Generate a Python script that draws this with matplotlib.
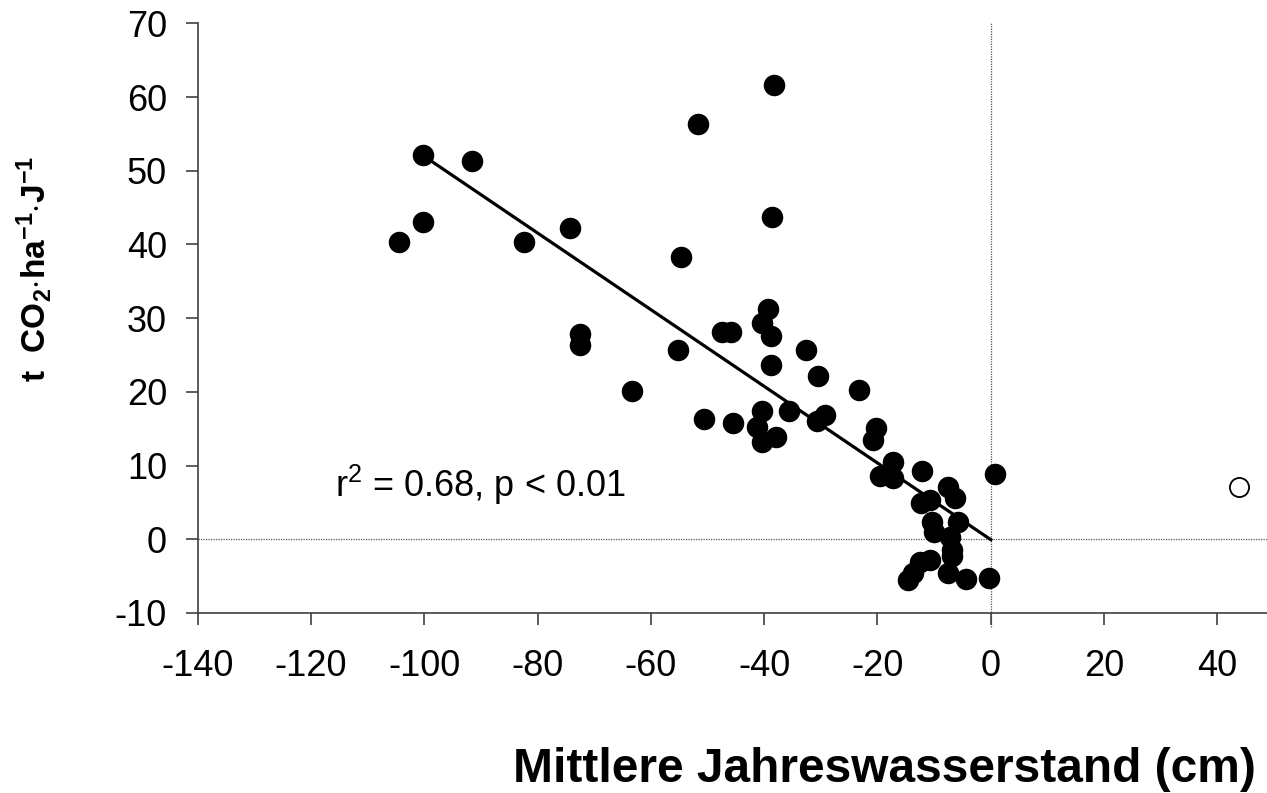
import matplotlib
matplotlib.use("Agg")
import matplotlib.pyplot as plt
import numpy as np

plt.rcParams['font.family'] = ['Liberation Sans', 'DejaVu Sans']
plt.rcParams['mathtext.fontset'] = 'custom'
plt.rcParams['mathtext.rm'] = 'Liberation Sans'
plt.rcParams['mathtext.it'] = 'Liberation Sans:italic'
plt.rcParams['mathtext.bf'] = 'Liberation Sans:bold'

# Mean annual water level (cm) vs CO2 emission (t CO2 / ha / yr)
water_level = [-104.4, -100.3, -100.3, -91.5, -82.4, -74.2, -72.6, -72.6, -63.4, -54.6,
               -55.2, -50.6, -47.5, -45.9, -45.5, -51.6, -38.2, -38.7, -39.3, -40.4,
               -38.8, -38.8, -40.4, -41.3, -40.4, -38.0, -35.6, -32.6, -30.5, -30.7,
               -29.3, -23.3, -20.3, -20.8, -17.2, -19.6, -17.3, -12.1, 0.7, -7.5,
               -10.7, -6.3, -12.3, -10.4, -5.7, -10.1, -7.2, -6.8, -6.8, -10.7,
               -12.5, -7.5, -13.7, -14.6, -4.4, -0.4]
co2_emission = [40.3, 52.1, 43.0, 51.3, 40.3, 42.2, 27.8, 26.4, 20.1, 38.3,
                25.7, 16.3, 28.1, 28.1, 15.8, 56.4, 61.6, 43.7, 31.3, 29.3,
                27.6, 23.7, 17.4, 15.3, 13.2, 13.9, 17.4, 25.7, 22.1, 16.0,
                16.8, 20.2, 15.1, 13.5, 10.5, 8.6, 8.3, 9.2, 8.8, 7.1,
                5.3, 5.6, 4.9, 2.4, 2.4, 1.0, 0.3, -1.5, -2.2, -2.8,
                -3.1, -4.6, -4.6, -5.5, -5.4, -5.3]

# excluded (open) point
outlier_level = [43.9]
outlier_co2 = [7.1]

# regression line
fit_slope = -0.52
fit_intercept = -0.05
fit_range = [-100.3, 0.0]

x_ticks = [-140, -120, -100, -80, -60, -40, -20, 0, 20, 40]
y_ticks = [-10, 0, 10, 20, 30, 40, 50, 60, 70]

fig = plt.figure(figsize=(12.67, 7.93), dpi=100)
W, H = 1267, 793
left_px, right_px, top_px, bot_px = 197.7, 1267, 23.3, 613
ax = fig.add_axes([left_px / W, 1 - bot_px / H, (right_px - left_px) / W, (bot_px - top_px) / H])

ax.set_xlim(-140, 48.76)
ax.set_ylim(-10, 70)

# reference dotted lines
ax.axhline(0, color='#555555', lw=0.9, ls=(0, (1, 1)), zorder=1)
ax.plot([0, 0], [-11.9, 70], color='#555555', lw=0.9, ls=(0, (1, 1)), zorder=1, clip_on=False)

fx = np.array(fit_range)
ax.plot(fx, fit_slope * fx + fit_intercept, color='black', lw=2.3, zorder=2)

ax.scatter(water_level, co2_emission, s=240, color='black', edgecolors='black', linewidths=0, zorder=3)
ax.scatter(outlier_level, outlier_co2, s=190, facecolors='white', edgecolors='black', linewidths=1.3, zorder=3)

ax.set_xticks(x_ticks)
ax.set_yticks(y_ticks)
ax.set_xticklabels([str(v) for v in x_ticks])
ax.set_yticklabels([str(v) for v in y_ticks])

for s in ['top', 'right']:
    ax.spines[s].set_visible(False)
for s in ['left', 'bottom']:
    ax.spines[s].set_color('#404040')
    ax.spines[s].set_linewidth(1.2)

ax.tick_params(axis='both', direction='out', length=8.6, width=1.2, color='#404040',
               labelsize=26, labelcolor='black')
ax.tick_params(axis='x', pad=17)
ax.tick_params(axis='y', pad=13.5)

ax.text(-115.8, 5.7, r'r$^2$ = 0.68, p < 0.01', fontsize=26, ha='left', va='baseline')

fig.text(884 / W, 1 - 782 / H, 'Mittlere Jahreswasserstand (cm)', fontsize=34.5,
         fontweight='bold', ha='center', va='baseline')
fig.text(34 / W, 1 - 269 / H, r'$\mathbf{t\ \ CO_2{\cdot}ha^{-1}{\cdot}J^{-1}}$', fontsize=24,
         rotation=90, ha='center', va='center')

fig.savefig('out.png', dpi=100)
